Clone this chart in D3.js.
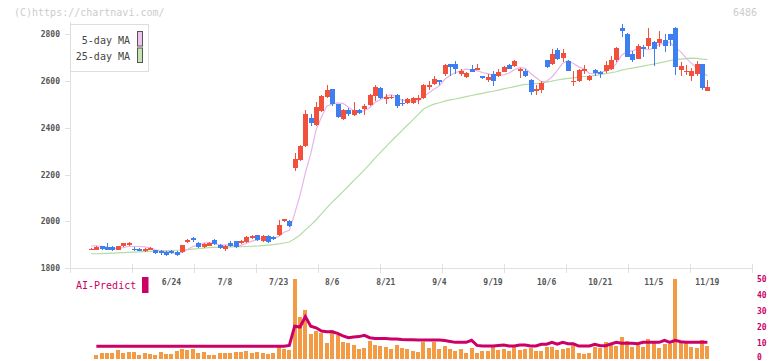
<!DOCTYPE html>
<html>
<head>
<meta charset="utf-8">
<script src="https://cdn.jsdelivr.net/npm/d3@7"></script>
<style>
  body { margin: 0; background: #fff; }
  svg { display: block; font-family: "DejaVu Sans Mono", "Liberation Mono", monospace; }
</style>
</head>
<body>
<script>
// daily candles, 6/3 .. 11/19 (one entry per trading day)
var opens = [1882,1880,1893,1890,1889,1880,1893,1898,1884,1882,1874,1880,1876,1872,1870,1875,1870,1870,1913,1928,
  1909,1892,1897,1921,1899,1881,1909,1916,1909,1913,1930,1942,1918,1938,1935,1942,2002,2002,2229,2262,
  2320,2443,2410,2472,2532,2563,2499,2437,2477,2454,2474,2478,2496,2535,2569,2523,2528,2540,2507,2503,
  2506,2520,2525,2573,2585,2602,2630,2670,2673,2630,2617,2650,2650,2620,2602,2630,2620,2638,2665,2662,
  2643,2642,2602,2557,2560,2689,2672,2730,2698,2685,2596,2600,2640,2603,2645,2637,2640,2652,2690,2826,
  2799,2715,2694,2743,2750,2764,2760,2774,2798,2826,2645,2640,2622,2628,2670,2557];
var highs = [1885,1896,1897,1906,1893,1896,1910,1912,1892,1886,1888,1890,1880,1876,1872,1878,1874,1900,1926,1932,
  1912,1908,1912,1924,1902,1898,1918,1918,1920,1938,1942,1944,1940,1940,1938,2005,2012,2006,2290,2326,
  2477,2460,2508,2540,2582,2566,2502,2480,2484,2510,2478,2500,2545,2580,2572,2545,2540,2545,2520,2528,
  2532,2540,2585,2598,2620,2603,2672,2673,2682,2652,2637,2665,2670,2622,2628,2640,2648,2662,2672,2690,
  2655,2648,2606,2582,2598,2690,2735,2740,2735,2690,2640,2648,2668,2625,2652,2643,2685,2706,2745,2840,
  2802,2725,2756,2754,2826,2770,2810,2798,2798,2830,2680,2665,2654,2684,2672,2601];
var lows = [1880,1876,1880,1876,1874,1876,1890,1894,1872,1874,1870,1876,1860,1858,1852,1862,1852,1866,1910,1914,
  1888,1888,1894,1898,1884,1874,1892,1888,1904,1910,1926,1916,1914,1910,1920,1938,1998,1976,2214,2258,
  2316,2407,2405,2466,2528,2494,2440,2432,2450,2450,2458,2455,2490,2512,2522,2500,2520,2482,2492,2500,
  2502,2500,2522,2560,2582,2582,2620,2622,2630,2622,2612,2636,2648,2606,2595,2578,2615,2636,2648,2660,
  2610,2617,2540,2540,2548,2655,2668,2690,2680,2640,2578,2596,2628,2600,2620,2612,2632,2645,2680,2788,
  2700,2680,2693,2700,2737,2664,2745,2724,2750,2625,2618,2624,2600,2620,2562,2557];
var closes = [1884,1891,1882,1880,1879,1893,1907,1906,1880,1878,1884,1886,1866,1866,1857,1866,1857,1898,1922,1920,
  1892,1905,1909,1902,1888,1896,1896,1892,1918,1935,1939,1920,1938,1913,1924,1985,2009,1980,2265,2322,
  2460,2420,2487,2534,2560,2499,2446,2477,2458,2474,2463,2491,2540,2574,2527,2530,2532,2490,2500,2523,
  2527,2525,2582,2582,2606,2595,2665,2660,2648,2642,2634,2638,2653,2610,2617,2600,2638,2660,2652,2685,
  2650,2620,2553,2563,2592,2660,2713,2694,2716,2642,2600,2645,2650,2620,2634,2632,2668,2690,2740,2813,
  2702,2690,2747,2737,2784,2737,2778,2750,2774,2657,2662,2642,2641,2673,2570,2574];

// moving averages as drawn on the chart
var ma5 = [1895,1896,1894,1890,1883,1885,1888,1893,1893,1893,1891,1887,1879,1876,1872,1868,1862,1869,1880,1893,
  1898,1907,1910,1906,1899,1900,1898,1895,1898,1907,1916,1921,1930,1929,1927,1936,1954,1962,2033,2112,
  2207,2289,2391,2445,2492,2500,2505,2503,2488,2471,2464,2473,2485,2508,2519,2532,2541,2531,2516,2515,
  2514,2513,2531,2548,2564,2578,2606,2622,2635,2642,2650,2644,2643,2635,2630,2624,2624,2625,2633,2647,
  2657,2653,2632,2614,2596,2598,2616,2644,2675,2685,2673,2659,2651,2631,2630,2636,2641,2649,2673,2709,
  2723,2727,2738,2738,2732,2739,2757,2757,2765,2739,2724,2697,2675,2655,2638,2620];
var ma25 = [1862,1862,1863,1864,1865,1866,1867,1868,1869,1870,1871,1872,1873,1874,1875,1876,1877,1878,1880,1882,
  1884,1886,1888,1889,1890,1890,1891,1891,1892,1893,1894,1895,1897,1899,1901,1904,1908,1912,1926,1942,
  1964,1984,2007,2032,2058,2082,2104,2127,2150,2174,2196,2220,2244,2270,2294,2318,2342,2364,2387,2410,
  2432,2455,2478,2491,2500,2506,2513,2518,2522,2527,2532,2537,2542,2546,2551,2555,2560,2565,2570,2575,
  2580,2584,2586,2588,2590,2594,2598,2603,2607,2610,2612,2615,2618,2620,2623,2626,2630,2634,2638,2645,
  2650,2654,2658,2662,2667,2671,2676,2680,2686,2690,2692,2694,2696,2695,2692,2690];

// AI-Predict panel (first day has no value)
var aiBars = [null,2.5,3.8,3.8,3.8,5.6,3.8,4.4,4.4,2.5,3.8,3.1,2.5,4.4,3.1,3.1,5,6.2,5.6,6.2,
  3.8,4.4,2.5,2.5,3.8,3.8,3.8,4.4,4.4,5,3.8,4.4,3.5,3.1,3.8,8.3,6.2,5.6,49.8,26.5,
  30.6,15.6,17.7,16.5,10.2,18.1,15,10.4,9.8,8.8,6.2,7.1,11.2,8.8,8.3,7.7,6.2,8.8,6.7,6.2,
  5,4.2,10.8,6.7,10.4,6.2,8.3,6.2,5,6.2,3.5,7.1,3.5,5,5,7.7,5.6,6.2,5,8.3,
  5.6,6.2,7.1,5,5,7.3,7.7,5.6,6.2,7.1,8.8,3.5,2.9,3.5,7.7,7.1,10.4,8.8,8.1,13.8,
  11.2,7.7,8.8,7.7,12.5,9.8,7.1,9.4,9.4,49.8,11.2,9.8,7.7,7.1,11.9,8.3];
var aiLine = [null,8,8,8,8,8,8,8,8,8,8,8,8,8,8,8,8,8,8,8,
  8,8,8,8,8,8,8,8,8,8,8,8,8,8,8,8,8,8.5,20.5,20,
  26.5,20.5,19.5,17.5,17,17,16,14.5,13.3,13.8,14,14.8,13.3,12.8,12.8,12.8,12.5,12.5,12.2,12,
  12,11.9,11.9,11.9,11.9,11.9,11.5,11,10.4,10.4,10.4,11.7,8.5,8.1,8.1,8.1,8.5,8.7,8.1,8.1,
  8.8,8.8,8.1,8.1,9.2,9.2,10.4,9.2,10.4,9.5,9.5,8.1,8.1,8.1,9.2,8.3,8.3,9.4,10.4,9.8,
  9.8,9.8,9.5,10.4,10.4,10.4,10.4,11.7,10.4,11.7,10.8,10.4,10.4,10.4,10.4,10.4];

var priceTicks = [1800, 2000, 2200, 2400, 2600, 2800];
var aiTicks = [0, 10, 20, 30, 40, 50];
var dateLabels = ["6/24","7/8","7/23","8/6","8/21","9/4","9/19","10/6","10/21","11/5","11/19"];
var firstLabelDay = 15, labelEvery = 10;

var W = 772, H = 361;
var up = "#f0503c", down = "#3d7ef0", axisCol = "#e0e0e0";

var svg = d3.select("body").append("svg")
  .attr("width", W)
  .attr("height", H);

var x = d3.scaleLinear().domain([0, closes.length - 1]).range([91, 707.4]);
var y = d3.scaleLinear().domain([1800, 2800]).range([268.3, 33.8]);
var yAi = d3.scaleLinear().domain([0, 50]).range([359, 279]);
var xGrid = d3.scaleLinear().domain([0, 11]).range([70, 752]);

// watermark
svg.append("text").attr("x", 14).attr("y", 16)
  .attr("font-size", 10).attr("fill", "#cccccc")
  .text("(C)https://chartnavi.com/");
svg.append("text").attr("x", 757).attr("y", 16)
  .attr("font-size", 10).attr("fill", "#cccccc").attr("text-anchor", "end")
  .text("6486");

// axes
var ax = svg.append("g").attr("stroke", axisCol).attr("shape-rendering", "crispEdges");
ax.append("line").attr("x1", 70.5).attr("x2", 70.5).attr("y1", 22).attr("y2", 272);
ax.append("line").attr("x1", 70).attr("x2", 752).attr("y1", Math.round(y(1800)) + 0.5).attr("y2", Math.round(y(1800)) + 0.5);
ax.selectAll(".yt").data(priceTicks).enter().append("line")
  .attr("x1", 65).attr("x2", 70)
  .attr("y1", function(d) { return Math.round(y(d)) + 0.5; })
  .attr("y2", function(d) { return Math.round(y(d)) + 0.5; });
ax.selectAll(".xt").data(d3.range(12)).enter().append("line")
  .attr("x1", function(d) { return Math.round(xGrid(d)) + 0.5; })
  .attr("x2", function(d) { return Math.round(xGrid(d)) + 0.5; })
  .attr("y1", 264).attr("y2", 273);

svg.append("g").selectAll("text").data(priceTicks).enter().append("text")
  .attr("x", 60).attr("y", function(d) { return y(d) + 3; })
  .attr("text-anchor", "end").attr("font-size", 8).attr("font-weight", "bold").attr("fill", "#555")
  .text(function(d) { return d; });

svg.append("g").selectAll("text").data(dateLabels).enter().append("text")
  .attr("x", function(d, i) { return x(firstLabelDay + i * labelEvery); })
  .attr("y", 285)
  .attr("text-anchor", "middle").attr("font-size", 8).attr("font-weight", "bold").attr("fill", "#555")
  .text(function(d) { return d; });

// moving averages
var line = function(vals) {
  return d3.line()
    .defined(function(d) { return d != null; })
    .x(function(d, i) { return x(i); })
    .y(function(d) { return y(d); })(vals);
};
svg.append("path").attr("d", line(ma25)).attr("fill", "none")
  .attr("stroke", "#b4dca4").attr("stroke-width", 1.2);
svg.append("path").attr("d", line(ma5)).attr("fill", "none")
  .attr("stroke", "#e8b4e8").attr("stroke-width", 1.2);

// candles
var days = d3.range(closes.length);
var cg = svg.append("g").attr("shape-rendering", "crispEdges");
cg.selectAll(".wick").data(days).enter().append("line")
  .attr("x1", function(i) { return Math.round(x(i)) + 0.5; })
  .attr("x2", function(i) { return Math.round(x(i)) + 0.5; })
  .attr("y1", function(i) { return y(highs[i]); })
  .attr("y2", function(i) { return y(lows[i]); })
  .attr("stroke", function(i) { return closes[i] >= opens[i] ? up : down; });
cg.selectAll(".body").data(days).enter().append("rect")
  .attr("x", function(i) { return Math.round(x(i)) - 2; })
  .attr("width", 5)
  .attr("y", function(i) { return y(Math.max(opens[i], closes[i])); })
  .attr("height", function(i) { return Math.max(1.5, Math.abs(y(opens[i]) - y(closes[i]))); })
  .attr("fill", function(i) { return closes[i] >= opens[i] ? up : down; });

// legend
var lg = svg.append("g");
lg.append("rect").attr("x", 70.5).attr("y", 24.5).attr("width", 78).attr("height", 47)
  .attr("fill", "#fff").attr("stroke", "#dddddd");
var legendItems = [["5-day MA", "#f0c4f0"], ["25-day MA", "#c4e4b4"]];
lg.selectAll("text").data(legendItems).enter().append("text")
  .attr("x", 130).attr("y", function(d, i) { return 44 + i * 16; })
  .attr("text-anchor", "end").attr("font-size", 10).attr("fill", "#444")
  .text(function(d) { return d[0]; });
lg.selectAll(".sw").data(legendItems).enter().append("rect")
  .attr("x", 137.5).attr("y", function(d, i) { return 31.5 + i * 16.5; })
  .attr("width", 5).attr("height", 14.5)
  .attr("fill", function(d) { return d[1]; }).attr("stroke", "#555");

// AI-Predict panel
svg.append("text").attr("x", 76).attr("y", 289)
  .attr("font-size", 10).attr("fill", "#cc0066").text("AI-Predict");
svg.append("rect").attr("x", 142).attr("y", 277).attr("width", 6.5).attr("height", 16)
  .attr("fill", "#cc0066");

svg.append("g").attr("shape-rendering", "crispEdges").selectAll("rect")
  .data(days.filter(function(i) { return aiBars[i] != null; })).enter().append("rect")
  .attr("x", function(i) { return Math.round(x(i)) - 2; })
  .attr("width", 4)
  .attr("y", function(i) { return yAi(aiBars[i]); })
  .attr("height", function(i) { return yAi(0) - yAi(aiBars[i]); })
  .attr("fill", "#f39a44");

svg.append("path")
  .attr("d", d3.line()
    .defined(function(d) { return d != null; })
    .x(function(d, i) { return x(i); })
    .y(function(d) { return yAi(d); })(aiLine))
  .attr("fill", "none").attr("stroke", "#cc0066").attr("stroke-width", 3);

svg.append("g").selectAll("text").data(aiTicks).enter().append("text")
  .attr("x", 757).attr("y", function(d) { return Math.min(yAi(d) + 2.5, 360); })
  .attr("font-size", 8).attr("font-weight", "bold").attr("fill", "#cc0066")
  .text(function(d) { return d; });
</script>
</body>
</html>
